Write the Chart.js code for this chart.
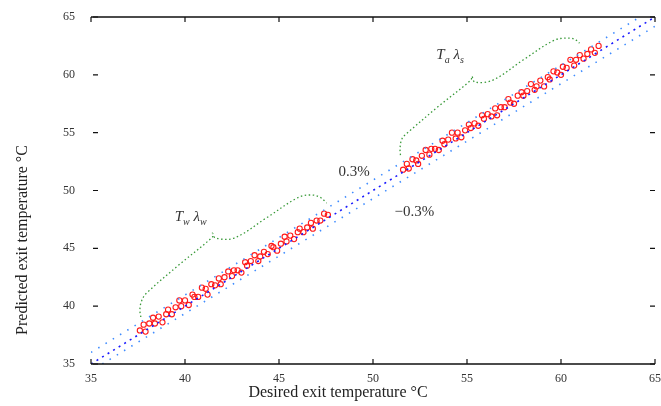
<!DOCTYPE html>
<html>
<head>
<meta charset="utf-8">
<script src="https://cdn.jsdelivr.net/npm/chart.js@4/dist/chart.umd.min.js"></script>
<style>
  html, body { margin: 0; padding: 0; background: #fff; }
  #wrap { width: 661px; height: 406px; }
</style>
</head>
<body>
<div id="wrap"><canvas id="c"></canvas></div>
<script>
// axis ticks
const tickValues = [35, 40, 45, 50, 55, 60, 65];

// reference line y = x and the +/-0.3% band
const refX = [35, 65];
const refY = [35, 65];
const upperX = [35, 64.2];
const upperY = [36.0, 65];
const lowerX = [35.6, 65];
const lowerY = [35, 64.2];

// first group of samples (desired vs predicted)
const desired1 = [37.6, 37.8, 37.9, 38.1, 38.3, 38.4, 38.6, 38.8, 39.0, 39.1, 39.3, 39.5, 39.7, 39.8, 40.0, 40.2, 40.4, 40.5, 40.7, 40.9,
  41.1, 41.2, 41.4, 41.6, 41.8, 41.9, 42.1, 42.3, 42.5, 42.6, 42.8, 43.0, 43.2, 43.3, 43.5, 43.7, 43.9, 44.0, 44.2, 44.4,
  44.6, 44.7, 44.9, 45.1, 45.3, 45.4, 45.6, 45.8, 46.0, 46.1, 46.3, 46.5, 46.7, 46.8, 47.0, 47.2, 47.4, 47.6];
const predicted1 = [37.9, 38.4, 37.8, 38.5, 39.0, 38.5, 39.1, 38.6, 39.3, 39.7, 39.3, 39.9, 40.5, 40.0, 40.5, 40.1, 41.0, 40.8, 40.8, 41.6,
  41.5, 41.0, 41.9, 41.8, 42.4, 41.9, 42.5, 43.0, 42.6, 43.1, 43.1, 42.9, 43.8, 43.5, 43.9, 44.4, 43.9, 44.3, 44.7, 44.5,
  45.2, 45.1, 44.8, 45.4, 46.0, 45.6, 46.1, 45.8, 46.4, 46.7, 46.4, 46.8, 47.2, 46.7, 47.4, 47.4, 48.0, 47.9];

// second group of samples
const desired2 = [51.6, 51.8, 51.9, 52.1, 52.3, 52.4, 52.6, 52.8, 53.0, 53.1, 53.3, 53.5, 53.7, 53.8, 54.0, 54.2, 54.4, 54.5, 54.7, 54.9,
  55.1, 55.2, 55.4, 55.6, 55.8, 55.9, 56.1, 56.3, 56.5, 56.6, 56.8, 57.0, 57.2, 57.3, 57.5, 57.7, 57.9, 58.0, 58.2, 58.4,
  58.6, 58.7, 58.9, 59.1, 59.3, 59.4, 59.6, 59.8, 60.0, 60.1, 60.3, 60.5, 60.7, 60.8, 61.0, 61.2, 61.4, 61.6, 61.8, 62.0];
const predicted2 = [51.8, 52.3, 51.9, 52.7, 52.6, 52.3, 53.0, 53.5, 53.1, 53.6, 53.6, 53.5, 54.3, 54.0, 54.4, 55.0, 54.5, 55.0, 54.6, 55.2,
  55.7, 55.4, 55.8, 55.6, 56.5, 56.2, 56.6, 56.4, 57.1, 56.5, 57.2, 57.2, 57.9, 57.6, 57.5, 58.2, 58.5, 58.2, 58.6, 59.2,
  58.7, 59.0, 59.5, 59.0, 59.8, 59.6, 60.3, 60.2, 60.0, 60.7, 60.6, 61.3, 60.8, 61.3, 61.7, 61.4, 61.8, 62.2, 61.9, 62.5];

// curly braces marking the two groups
const brace1X = [37.65, 37.6, 37.7, 37.96, 39.7, 41.46, 41.46, 41.61, 42.62, 44.3, 46.06, 46.75, 47.2, 47.54];
const brace1Y = [39.06, 39.7, 40.5, 41.14, 43.6, 45.98, 46.32, 45.89, 45.89, 47.6, 49.43, 49.61, 49.4, 48.91];
const brace2X = [51.46, 51.44, 51.55, 51.88, 53.5, 55.21, 55.26, 55.42, 56.38, 58.0, 59.66, 60.5, 60.8, 60.98];
const brace2Y = [53.06, 53.7, 54.5, 55.05, 57.3, 59.55, 59.89, 59.37, 59.55, 61.3, 63.0, 63.18, 63.0, 62.74];

// text annotations in data coordinates
const notes = [
  { x: 49.0, y: 51.6, parts: [['0.3%', '']] },
  { x: 52.2, y: 48.1, parts: [['\u22120.3%', '']] },
  { x: 40.3, y: 47.7, parts: [['T', 'w'], [' \u03bb', 'w']], italic: true },
  { x: 54.1, y: 61.7, parts: [['T', 'a'], [' \u03bb', 's']], italic: true }
];

function pts(xs, ys) {
  return xs.map((x, i) => ({ x: x, y: ys[i] }));
}

const framePlugin = {
  id: 'frame',
  afterDraw(chart) {
    const ctx = chart.ctx;
    const a = chart.chartArea;
    const sx = chart.scales.x, sy = chart.scales.y;
    ctx.save();
    ctx.strokeStyle = '#111';
    ctx.lineWidth = 1.5;
    ctx.beginPath();
    ctx.moveTo(a.left, a.bottom); ctx.lineTo(a.right, a.bottom);
    ctx.moveTo(a.left, a.top); ctx.lineTo(a.right, a.top);
    ctx.stroke();
    ctx.lineWidth = 1.2;
    ctx.beginPath();
    tickValues.forEach(v => {
      const px = sx.getPixelForValue(v);
      ctx.moveTo(px, a.bottom); ctx.lineTo(px, a.bottom - 5);
      ctx.moveTo(px, a.top); ctx.lineTo(px, a.top + 5);
      const py = sy.getPixelForValue(v);
      ctx.moveTo(a.left + 2, py); ctx.lineTo(a.left + 7, py);
      ctx.moveTo(a.right, py); ctx.lineTo(a.right - 5, py);
    });
    ctx.stroke();

    // axis titles
    ctx.fillStyle = '#222';
    ctx.font = '16px "Liberation Serif", serif';
    ctx.textAlign = 'center';
    ctx.textBaseline = 'middle';
    ctx.fillText('Desired exit temperature \u00b0C', 338, 393);
    ctx.translate(23, 240);
    ctx.rotate(-Math.PI / 2);
    ctx.fillText('Predicted exit temperature \u00b0C', 0, 0);
    ctx.restore();

    // annotations
    ctx.save();
    ctx.fillStyle = '#333';
    ctx.textBaseline = 'middle';
    ctx.textAlign = 'left';
    notes.forEach(n => {
      let px = sx.getPixelForValue(n.x);
      const py = sy.getPixelForValue(n.y);
      const style = n.italic ? 'italic ' : '';
      const parts = n.parts;
      let total = 0;
      parts.forEach(p => {
        ctx.font = style + '15px "Liberation Serif", serif';
        total += ctx.measureText(p[0]).width;
        ctx.font = style + '10px "Liberation Serif", serif';
        total += ctx.measureText(p[1]).width;
      });
      px -= total / 2;
      parts.forEach(p => {
        ctx.font = style + '15px "Liberation Serif", serif';
        ctx.fillText(p[0], px, py);
        px += ctx.measureText(p[0]).width;
        ctx.font = style + '10px "Liberation Serif", serif';
        ctx.fillText(p[1], px, py + 5);
        px += ctx.measureText(p[1]).width;
      });
    });
    ctx.restore();
  }
};

const braceStyle = {
  type: 'line',
  borderColor: '#3a9a3a',
  borderWidth: 1.3,
  borderDash: [1.5, 2.5],
  pointRadius: 0,
  tension: 0.35,
  fill: false
};

new Chart(document.getElementById('c'), {
  type: 'scatter',
  data: {
    datasets: [
      { data: pts(upperX, upperY), type: 'line', borderColor: '#3f8cff', borderWidth: 1.6, borderDash: [1.5, 7], pointRadius: 0, fill: false },
      { data: pts(lowerX, lowerY), type: 'line', borderColor: '#3f8cff', borderWidth: 1.6, borderDash: [1.5, 7], pointRadius: 0, fill: false },
      { data: pts(refX, refY), type: 'line', borderColor: '#1a1aff', borderWidth: 1.6, borderDash: [2, 4.5], pointRadius: 0, fill: false },
      Object.assign({ data: pts(brace1X, brace1Y) }, braceStyle),
      Object.assign({ data: pts(brace2X, brace2Y) }, braceStyle),
      { data: pts(desired1, predicted1), pointStyle: 'circle', pointRadius: 2.6, borderColor: '#ff1a1a', borderWidth: 1.1, backgroundColor: 'rgba(0,0,0,0)' },
      { data: pts(desired2, predicted2), pointStyle: 'circle', pointRadius: 2.6, borderColor: '#ff1a1a', borderWidth: 1.1, backgroundColor: 'rgba(0,0,0,0)' }
    ]
  },
  options: {
    responsive: true,
    maintainAspectRatio: false,
    animation: false,
    layout: { padding: { left: 0, right: 3, top: 17, bottom: 0 } },
    plugins: { legend: { display: false }, tooltip: { enabled: false } },
    scales: {
      x: {
        type: 'linear', min: 35, max: 65,
        afterBuildTicks: s => { s.ticks = tickValues.map(v => ({ value: v })); },
        afterFit: s => { s.height = 42; },
        grid: { display: false },
        border: { display: false },
        ticks: { color: '#333', padding: 0, maxRotation: 0, font: { family: '"Liberation Serif", serif', size: 12 } }
      },
      y: {
        type: 'linear', min: 35, max: 65,
        afterBuildTicks: s => { s.ticks = tickValues.map(v => ({ value: v })); },
        afterFit: s => { s.width = 91; },
        grid: { display: false },
        border: { display: false },
        ticks: { color: '#333', padding: 8, font: { family: '"Liberation Serif", serif', size: 12 } }
      }
    }
  },
  plugins: [framePlugin]
});
</script>
</body>
</html>
